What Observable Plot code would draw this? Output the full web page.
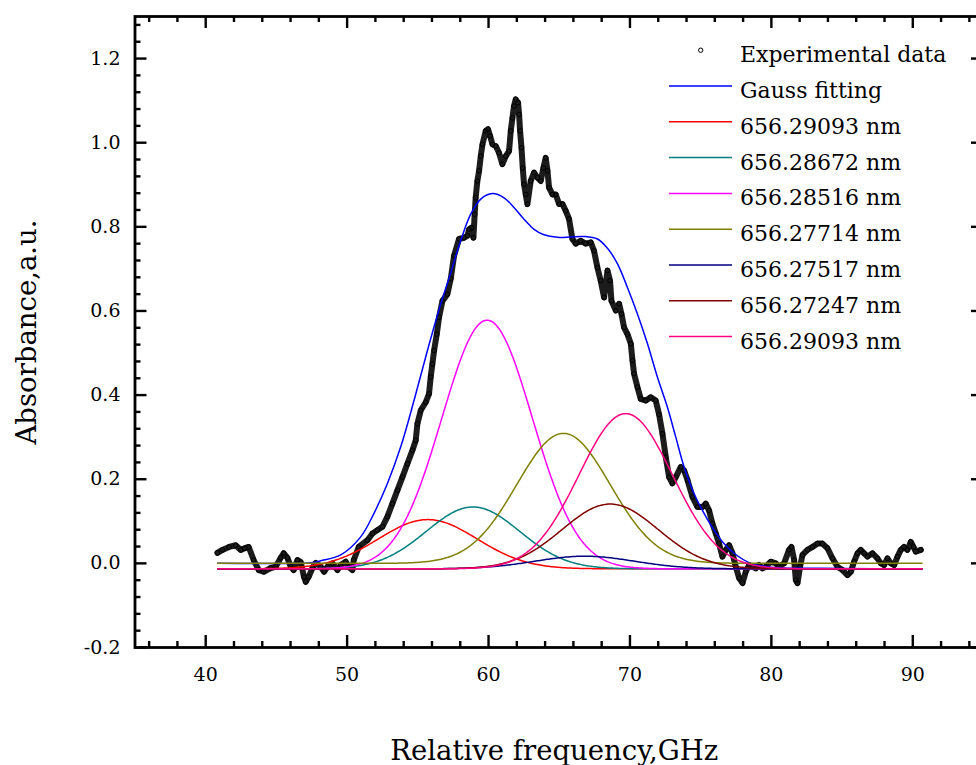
<!DOCTYPE html>
<html><head><meta charset="utf-8">
<script src="https://cdn.jsdelivr.net/npm/d3@7"></script>
<script src="https://cdn.jsdelivr.net/npm/@observablehq/plot@0.6"></script>
<style>
html,body{margin:0;padding:0;overflow:hidden;background:#fff;}
#chart{position:relative;width:976px;height:765px;overflow:hidden;}
#chart svg{max-width:none !important;height:765px !important;}
</style>
</head><body><div id="chart"></div>
<script>
// Experimental data [GHz, absorbance]
const expPoints = [[40.83,0.025],[41.18,0.032],[41.65,0.039],[42.12,0.043],[42.48,0.032],[42.76,0.036],[43.04,0.039],[43.39,0.008],[43.75,-0.016],[44.10,-0.020],[44.60,-0.011],[44.95,-0.008],[45.30,0.013],[45.52,0.024],[45.78,0.013],[46.01,-0.008],[46.22,-0.016],[46.49,0.008],[46.72,0.003],[46.95,-0.032],[47.07,-0.044],[47.28,-0.032],[47.55,-0.011],[47.78,0.001],[48.13,-0.008],[48.37,-0.020],[48.61,-0.008],[48.96,0.000],[49.31,-0.016],[49.55,-0.004],[49.90,0.004],[50.13,-0.009],[50.37,-0.016],[50.47,0.008],[50.82,0.039],[51.44,0.055],[51.79,0.071],[52.14,0.079],[52.50,0.087],[52.85,0.111],[53.20,0.142],[53.56,0.174],[53.91,0.205],[54.26,0.237],[54.62,0.269],[54.85,0.292],[54.97,0.332],[55.21,0.364],[55.56,0.383],[55.79,0.403],[55.91,0.443],[56.03,0.474],[56.15,0.506],[56.34,0.545],[56.50,0.585],[56.74,0.624],[57.09,0.640],[57.33,0.677],[57.56,0.731],[57.91,0.771],[58.27,0.774],[58.51,0.779],[58.62,0.794],[58.79,0.798],[58.93,0.774],[59.02,0.830],[59.09,0.869],[59.21,0.909],[59.33,0.933],[59.45,0.968],[59.57,0.996],[59.80,1.028],[59.96,1.032],[60.11,1.016],[60.28,0.996],[60.51,0.992],[60.74,0.976],[60.98,0.949],[61.22,0.968],[61.45,0.980],[61.57,1.028],[61.69,1.059],[61.80,1.087],[61.92,1.103],[62.09,1.095],[62.16,1.067],[62.23,1.028],[62.33,0.988],[62.42,0.940],[62.51,0.901],[62.63,0.877],[62.75,0.854],[62.98,0.909],[63.22,0.929],[63.46,0.917],[63.69,0.909],[63.88,0.940],[64.04,0.964],[64.17,0.933],[64.28,0.893],[64.52,0.877],[64.75,0.877],[64.99,0.854],[65.23,0.854],[65.46,0.838],[65.69,0.819],[65.93,0.771],[66.17,0.760],[66.52,0.767],[66.87,0.760],[67.23,0.763],[67.46,0.743],[67.70,0.703],[67.93,0.672],[68.17,0.632],[68.41,0.696],[68.59,0.672],[68.69,0.624],[69.00,0.601],[69.23,0.617],[69.40,0.593],[69.58,0.561],[69.82,0.545],[70.06,0.522],[70.18,0.482],[70.29,0.451],[70.53,0.419],[70.76,0.391],[71.12,0.387],[71.47,0.395],[71.82,0.387],[72.06,0.354],[72.30,0.308],[72.53,0.253],[72.77,0.205],[73.00,0.190],[73.24,0.205],[73.59,0.229],[73.83,0.221],[74.07,0.198],[74.42,0.158],[74.77,0.134],[75.13,0.134],[75.36,0.142],[75.59,0.126],[75.83,0.095],[76.07,0.071],[76.30,0.047],[76.54,0.016],[76.78,0.032],[77.01,0.043],[77.25,0.024],[77.48,-0.008],[77.72,-0.035],[77.96,-0.047],[78.19,-0.020],[78.42,-0.004],[78.66,-0.008],[78.90,-0.012],[79.13,-0.004],[79.37,-0.012],[79.60,-0.008],[79.96,0.004],[80.31,0.000],[80.54,-0.008],[80.90,0.000],[81.25,0.032],[81.42,0.039],[81.61,0.008],[81.73,-0.040],[81.85,-0.047],[82.03,-0.008],[82.20,0.020],[82.55,0.032],[82.91,0.039],[83.26,0.047],[83.61,0.047],[83.97,0.036],[84.32,0.012],[84.67,-0.008],[85.03,-0.016],[85.38,-0.028],[85.62,-0.020],[85.85,0.004],[86.09,0.024],[86.32,0.032],[86.56,0.024],[86.80,0.016],[87.15,0.024],[87.50,0.012],[87.74,0.000],[87.97,-0.004],[88.21,0.012],[88.44,0.000],[88.68,-0.004],[88.92,0.016],[89.15,0.032],[89.38,0.039],[89.62,0.032],[89.86,0.051],[90.05,0.039],[90.21,0.028],[90.57,0.032]];

// Total Gauss fitting curve [GHz, absorbance]
const fitPoints = [[40.85,0.0],[46.7,0.0],[47.6,0.002],[48.13,0.006],[49.55,0.020],[50.96,0.063],[51.90,0.119],[52.85,0.190],[53.79,0.277],[54.73,0.387],[55.68,0.506],[56.62,0.617],[57.33,0.691],[58.03,0.767],[58.74,0.830],[59.45,0.866],[60.28,0.879],[61.10,0.869],[61.80,0.846],[62.51,0.818],[63.22,0.794],[63.92,0.781],[64.87,0.775],[65.81,0.776],[66.75,0.777],[67.70,0.771],[68.41,0.749],[69.12,0.712],[69.82,0.656],[70.53,0.593],[71.24,0.522],[71.94,0.443],[72.65,0.371],[73.24,0.300],[73.83,0.229],[74.53,0.166],[75.24,0.119],[75.95,0.079],[76.65,0.047],[77.36,0.024],[78.54,0.000],[79.96,-0.009],[85.0,-0.012],[90.65,-0.013]];

// Gaussian components
const compLabels = ["656.29093 nm","656.28672 nm","656.28516 nm","656.27714 nm","656.27517 nm","656.27247 nm","656.29093 nm"];
const compColors = ["#ff0000","#008080","#ff00ff","#808000","#000080","#800000","#ff0080"];
const compCenter = [55.7, 58.9, 59.9, 65.3, 66.8, 68.6, 69.7];   // GHz
const compPeak   = [0.104, 0.134, 0.578, 0.309, 0.017, 0.141, 0.356];
const compBase   = [-0.013, -0.013, -0.013, 0.0, -0.013, -0.013, -0.013];
const compSigma  = [3.5, 3.3, 3.2, 3.3, 3.5, 3.4, 3.3];     // GHz
const compSpan   = [40.85, 90.65];

const xTicks = [40, 50, 60, 70, 80, 90];
const yTicks = [-0.2, 0.0, 0.2, 0.4, 0.6, 0.8, 1.0, 1.2];
const xLabel = "Relative frequency,GHz";
const yLabel = "Absorbance,a.u.";
const legendExp = "Experimental data";
const legendFit = "Gauss fitting";

const FONT = "'DejaVu Serif', 'Liberation Serif', serif";

const expData = expPoints.map(([x, y]) => ({x, y}));
const fitData = fitPoints.map(([x, y]) => ({x, y}));
const grid = d3.range(compSpan[0], compSpan[1] + 1e-9, 0.1);
const compData = compLabels.flatMap((lab, i) => grid.map(x => ({
  k: i, x,
  y: compBase[i] + (compPeak[i] - compBase[i]) * Math.exp(-((x - compCenter[i]) ** 2) / (2 * compSigma[i] ** 2))
})));

const xMinor = d3.range(36, 95, 2).filter(v => v % 10 !== 0);
const yMinor = d3.range(-5, 33).filter(i => i % 5 !== 0).map(i => +(i * 0.04).toFixed(2));

const W = 990, H = 765, mL = 134.5, mR = 7, mT = 16, mB = 118;
const fw = W - mL - mR, fh = H - mT - mB;
const tk = {stroke: "black", strokeWidth: 2.4};

const marks = [
  Plot.line(expData, {x: "x", y: "y", stroke: "#1c1c1c", strokeWidth: 6}),
  Plot.dot(expData, {x: "x", y: "y", r: 2.3, stroke: "#000", strokeWidth: 1, fill: "none"}),
  Plot.line(fitData, {x: "x", y: "y", stroke: "#0000ff", strokeWidth: 1.5, curve: "catmull-rom"}),
];
compLabels.forEach((lab, i) => {
  marks.push(Plot.line(compData.filter(d => d.k === i), {x: "x", y: "y", stroke: compColors[i], strokeWidth: 1.5}));
});
marks.push(
  Plot.tickY(yTicks, {y: d => d, ...tk, insetRight: fw - 12}),
  Plot.tickY(yMinor, {y: d => d, ...tk, insetRight: fw - 6}),
  Plot.tickY(yTicks, {y: d => d, ...tk, insetLeft: fw - 12}),
  Plot.tickY(yMinor, {y: d => d, ...tk, insetLeft: fw - 6}),
  Plot.tickX(xTicks, {x: d => d, ...tk, insetTop: fh - 12}),
  Plot.tickX(xMinor, {x: d => d, ...tk, insetTop: fh - 6}),
  Plot.tickX(xTicks, {x: d => d, ...tk, insetBottom: fh - 12}),
  Plot.tickX(xMinor, {x: d => d, ...tk, insetBottom: fh - 6}),
  Plot.frame({stroke: "black", strokeWidth: 2.8}),
  Plot.axisX({ticks: xTicks, tickSize: 0, tickPadding: 19.5, label: null, fontSize: 19, fill: "black"}),
  Plot.axisY({ticks: yTicks, tickSize: 0, tickPadding: 14.5, label: null, fontSize: 19, fill: "black", tickFormat: d => d.toFixed(1)}),
  Plot.text([xLabel], {frameAnchor: "bottom", lineAnchor: "middle", textAnchor: "middle", dx: -5, dy: 104, fontSize: 27.5, fill: "black"}),
  Plot.text([yLabel], {frameAnchor: "left", lineAnchor: "middle", textAnchor: "middle", rotate: -90, dx: -107.5, fontSize: 27.5, fill: "black"})
);

const svg = Plot.plot({
  width: W, height: H,
  marginLeft: mL, marginRight: mR, marginTop: mT, marginBottom: mB,
  x: {domain: [35, 95], axis: null},
  y: {domain: [-0.2, 1.3], axis: null},
  style: {fontFamily: FONT, fontSize: "19px", color: "black", background: "white", maxWidth: "none"},
  marks
});
document.getElementById("chart").appendChild(svg);

// Legend (inside the plot area, upper right)
const legendItems = [{label: legendExp, type: "dot"}, {label: legendFit, color: "#0000ff"}]
  .concat(compLabels.map((l, i) => ({label: l, color: compColors[i]})));
const lg = d3.select(svg).append("g").attr("font-family", FONT).attr("font-size", 22)
  .attr("fill", "black").attr("text-anchor", "start");
legendItems.forEach((it, i) => {
  const yy = 50.2 + 35.8 * i;
  if (it.type === "dot") {
    lg.append("circle").attr("cx", 700.7).attr("cy", yy).attr("r", 2.2)
      .attr("fill", "none").attr("stroke", "black").attr("stroke-width", 1);
  } else {
    lg.append("line").attr("x1", 669).attr("x2", 732).attr("y1", yy).attr("y2", yy)
      .attr("stroke", it.color).attr("stroke-width", 1.5);
  }
  lg.append("text").attr("x", 740).attr("y", yy + 12).text(it.label);
});
</script>
</body></html>
